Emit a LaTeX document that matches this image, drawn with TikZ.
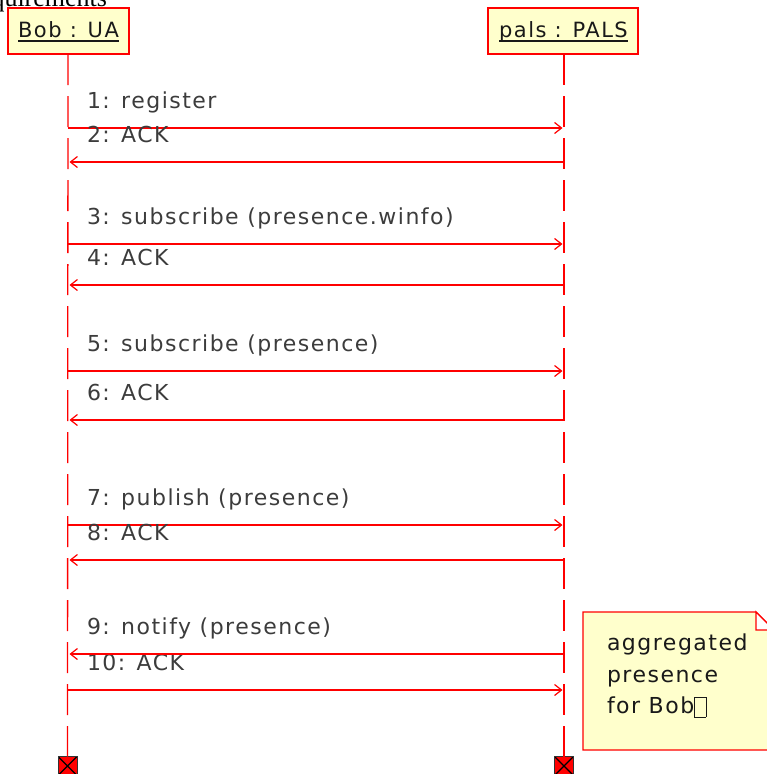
\documentclass[tikz,border=0pt]{standalone}
\usepackage{fontspec}
\setmainfont{DejaVu Sans}
\newfontfamily\lblfont[LetterSpace=6.8]{DejaVu Sans}
\newfontfamily\hdrfont[LetterSpace=7]{DejaVu Sans}
\newfontfamily\serifcut{Liberation Serif}
\usetikzlibrary{arrows.meta}
\definecolor{noteyellow}{RGB}{255,255,204}
\definecolor{lbl}{RGB}{60,60,60}
\definecolor{dark}{RGB}{25,25,25}
\definecolor{lred}{RGB}{255,0,0}
\begin{document}
\begin{tikzpicture}[x=1pt,y=-1pt,
  every node/.style={inner sep=0pt, outer sep=0pt},
  hdrbox/.style={draw=lred, fill=noteyellow, line width=1.3pt, minimum width=#1, minimum height=46pt},
  hdrtext/.style={font=\hdrfont\fontsize{21}{24}\selectfont, text=dark, anchor=base},
  lbltext/.style={font=\lblfont\fontsize{22}{26}\selectfont, text=lbl, anchor=base west},
  notetext/.style={font=\lblfont\fontsize{22}{26}\selectfont, text=dark, anchor=base west},
  lifeline/.style={draw=lred, line width=1.3pt, dash pattern=on 31pt off 11pt},
  msg/.style={draw=lred, line width=1.2pt, -{Straight Barb[length=7pt,width=11pt]}, shorten >=1.5pt},
  term/.style={draw=black!80, fill=lred, minimum size=19pt, line width=1pt,
    path picture={\draw[black, line width=1.3pt] (path picture bounding box.north west) -- (path picture bounding box.south east)
      (path picture bounding box.north east) -- (path picture bounding box.south west);}},
  notebox/.style={draw=lred, fill=noteyellow, line width=1.3pt},
]
\useasboundingbox (0,0) rectangle (767,774);

% cut-off title
\node[anchor=base west, font=\serifcut\fontsize{26}{30}\selectfont] (cut) at (-8.5,6) {quirements};

% headers
\node[hdrbox=121pt] (bob) at (68.5,31) {};
\node[hdrbox=150pt] (pals) at (563,31) {};
\node[hdrtext] (bobt) at (68.5,37.5) {Bob : UA};
\node[hdrtext] (palst) at (563.5,37.5) {pals : PALS};
\draw[dark, line width=1.3pt] ([yshift=-3.5pt]bobt.base west) -- ([yshift=-3.5pt]bobt.base east);
\draw[dark, line width=1.3pt] ([yshift=-3.5pt]palst.base west) -- ([yshift=-3.5pt]palst.base east);

% terminators
\node[term] (bobend) at (67.5,766) {};
\node[term] (palsend) at (564,766) {};

% lifelines
\draw[lifeline] (bob.south -| 68,0) -- (bobend.north);
\draw[lifeline] (pals.south -| 564,0) -- (palsend.north);

% messages to the right
\foreach \i/\y/\txt in {1/128/{1: register}, 3/244/{3: subscribe (presence.winfo)}, 5/371/{5: subscribe (presence)}, 7/525/{7: publish (presence)}, 10/690/{10: ACK}}{
  \coordinate (L\i) at (68,\y);
  \coordinate (R\i) at (564,\y);
  \draw[msg] (L\i) -- (R\i);
  \node[lbltext] (m\i) at (87,\y-20) {\txt};
}
% messages to the left
\foreach \i/\y/\txt in {2/162/{2: ACK}, 4/285/{4: ACK}, 6/420/{6: ACK}, 8/560/{8: ACK}, 9/654/{9: notify (presence)}}{
  \coordinate (L\i) at (68,\y);
  \coordinate (R\i) at (564,\y);
  \draw[msg] (R\i) -- (L\i);
  \node[lbltext] (m\i) at (87,\y-20) {\txt};
}

% note
\coordinate (n1) at (583,612);
\coordinate (n2) at (756,612);
\coordinate (n3) at (774,630);
\coordinate (n4) at (774,750);
\coordinate (n5) at (583,750);
\coordinate (nf) at (756,630);
\draw[notebox] (n1) -- (n2) -- (n3) -- (n4) -- (n5) -- cycle;
\draw[draw=lred, fill=white, line width=1.3pt, line join=miter] (n2) -- (nf) -- (n3) -- cycle;
\node[notetext] (note1) at (607,650) {aggregated};
\node[notetext] (note2) at (607,682) {presence};
\node[notetext] (note3) at (607,713) {for Bob\raisebox{-0.5pt}{\fbox{\rule{0pt}{13pt}\rule{5pt}{0pt}}}};
\end{tikzpicture}
\end{document}
